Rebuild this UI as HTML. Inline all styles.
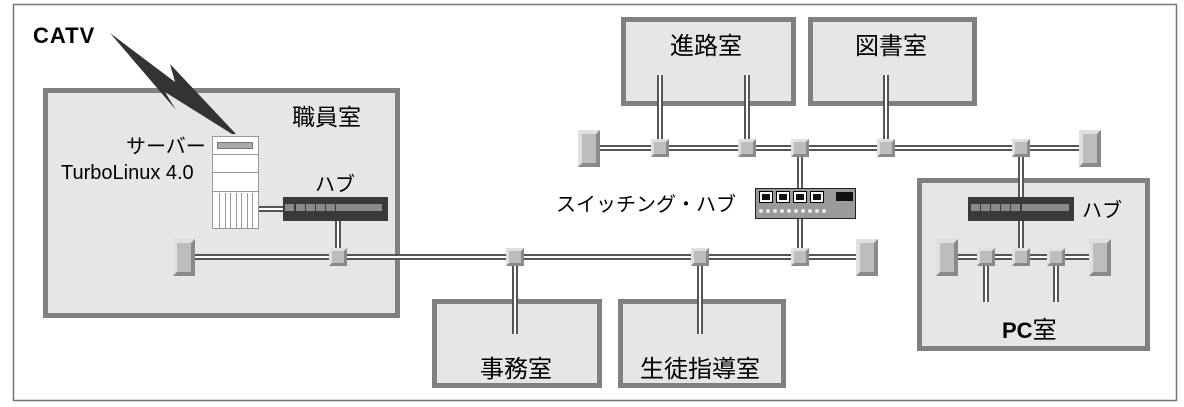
<!DOCTYPE html>
<html><head><meta charset="utf-8"><style>
html,body{margin:0;padding:0;background:#fff;}
svg{display:block;}
text{font-family:"Liberation Sans","Noto Sans CJK JP",sans-serif;fill:#000;}
</style></head><body>
<svg width="1184" height="407" viewBox="0 0 1184 407" xmlns="http://www.w3.org/2000/svg">
<defs>
<g id="node">
<rect x="0" y="0" width="18" height="18" fill="#bdbdbd"/>
<polygon points="0,0 18,0 15,3 3,3 3,15 0,18" fill="#e0e0e0"/>
<polygon points="18,0 18,18 0,18 3,15 15,15 15,3" fill="#8a8a8a"/>
</g>
<g id="term">
<rect x="0" y="0" width="22" height="37" fill="#bdbdbd"/>
<polygon points="0,0 22,0 18,4 4,4 4,33 0,37" fill="#e0e0e0"/>
<polygon points="22,0 22,37 0,37 4,33 18,33 18,4" fill="#8a8a8a"/>
</g>
</defs>
<rect x="13.5" y="4.5" width="1163" height="396" fill="#fff" stroke="#777" stroke-width="1.5"/>

<g fill="#e6e6e6" stroke="#808080" stroke-width="5">
<rect x="45.5" y="90.5" width="352" height="225"/>
<rect x="623.5" y="19.5" width="170" height="84"/>
<rect x="810.5" y="19.5" width="164" height="84"/>
<rect x="919.5" y="180.5" width="228" height="168"/>
<rect x="434.5" y="301.5" width="165" height="84"/>
<rect x="620.5" y="301.5" width="163" height="84"/>
</g>

<g fill="none" stroke-linecap="butt">
<g stroke="#555" stroke-width="6">
<path d="M195 257H856 M600 148H1080 M660 75V148 M747 75V148 M886 75V148 M800 148V258 M1021 148V258 M338 210V257 M515 257V334 M700 257V334 M259 209H284 M957 257H1090 M986 257V302 M1056 257V302"/>
</g>
<g stroke="#fff" stroke-width="2">
<path d="M195 257H856 M600 148H1080 M660 75V148 M747 75V148 M886 75V148 M800 148V258 M1021 148V258 M338 210V257 M515 257V334 M700 257V334 M259 209H284 M957 257H1090 M986 257V302 M1056 257V302"/>
</g>
</g>

<use href="#term" x="173" y="239"/>
<use href="#term" x="856" y="239"/>
<use href="#term" x="578" y="130"/>
<use href="#term" x="1079" y="130"/>
<use href="#term" x="936" y="239"/>
<use href="#term" x="1089" y="239"/>

<use href="#node" x="329" y="248"/>
<use href="#node" x="506" y="248"/>
<use href="#node" x="691" y="248"/>
<use href="#node" x="791" y="248"/>
<use href="#node" x="651" y="139"/>
<use href="#node" x="738" y="139"/>
<use href="#node" x="791" y="139"/>
<use href="#node" x="877" y="139"/>
<use href="#node" x="1012" y="139"/>
<use href="#node" x="977" y="248"/>
<use href="#node" x="1012" y="248"/>
<use href="#node" x="1047" y="248"/>

<rect x="755.5" y="188.5" width="100" height="30" fill="#9a9a9a" stroke="#222" stroke-width="1"/>
<g fill="#fff" stroke="#000" stroke-width="1">
<rect x="759.5" y="191.5" width="13" height="11"/>
<rect x="776.5" y="191.5" width="13" height="11"/>
<rect x="793.5" y="191.5" width="13" height="11"/>
<rect x="810.5" y="191.5" width="13" height="11"/>
</g>
<g fill="#111">
<rect x="762" y="194" width="8" height="6"/><rect x="779" y="194" width="8" height="6"/><rect x="796" y="194" width="8" height="6"/><rect x="813" y="194" width="8" height="6"/>
<rect x="836" y="192" width="17" height="9"/>
</g>
<g fill="#e8e8e8">
<circle cx="761" cy="211" r="2"/><circle cx="768" cy="211" r="2"/><circle cx="775" cy="211" r="2"/><circle cx="782" cy="211" r="2"/><circle cx="789" cy="211" r="2"/><circle cx="796" cy="211" r="2"/><circle cx="803" cy="211" r="2"/><circle cx="810" cy="211" r="2"/><circle cx="817" cy="211" r="2"/><circle cx="824" cy="211" r="2"/>
</g>

<rect x="283" y="197" width="105" height="24" fill="#3a3a3a"/>
<g fill="#8a8a8a">
<rect x="285" y="204" width="9" height="7"/><rect x="296" y="204" width="9" height="7"/><rect x="306" y="204" width="9" height="7"/><rect x="316" y="204" width="9" height="7"/><rect x="326" y="204" width="9" height="7"/><rect x="336" y="204" width="46" height="7"/>
</g>
<rect x="968" y="197" width="106" height="24" fill="#3a3a3a"/>
<g fill="#8a8a8a">
<rect x="971" y="204" width="9" height="7"/><rect x="981" y="204" width="9" height="7"/><rect x="991" y="204" width="9" height="7"/><rect x="1001" y="204" width="9" height="7"/><rect x="1011" y="204" width="9" height="7"/><rect x="1022" y="204" width="47" height="7"/>
</g>

<rect x="212.5" y="136.5" width="46" height="92" fill="#fff" stroke="#999" stroke-width="1"/>
<rect x="217.5" y="142.5" width="35" height="6" fill="#aaa" stroke="#777" stroke-width="1"/>
<line x1="212" y1="154.5" x2="259" y2="154.5" stroke="#999"/>
<line x1="212" y1="172.5" x2="259" y2="172.5" stroke="#999"/>
<line x1="212" y1="191.5" x2="259" y2="191.5" stroke="#999"/>
<g stroke="#999" stroke-width="1">
<path d="M219.5 193V228 M225.5 193V228 M230.5 193V228 M236.5 193V228 M241.5 193V228 M247.5 193V228 M252.5 193V228"/>
</g>

<polygon points="110,33 175,82 170,64 236,134 232,134 165,92 176,110" fill="#333"/>

<text x="33" y="43" font-size="22" font-weight="bold" letter-spacing="1">CATV</text>
<text x="292" y="125" font-size="23">職員室</text>
<text x="126" y="153" font-size="20">サーバー</text>
<text x="61" y="179" font-size="20">TurboLinux 4.0</text>
<text x="315" y="191" font-size="20">ハブ</text>
<text x="556" y="211" font-size="20">スイッチング・ハブ</text>
<text x="1082" y="217" font-size="20">ハブ</text>
<text x="670" y="54" font-size="24">進路室</text>
<text x="855" y="54" font-size="24">図書室</text>
<text x="1002" y="338" font-size="22" font-weight="bold">PC<tspan font-weight="normal" font-size="24">室</tspan></text>
<text x="480" y="377" font-size="24">事務室</text>
<text x="640" y="377" font-size="24">生徒指導室</text>
</svg>
</body></html>
